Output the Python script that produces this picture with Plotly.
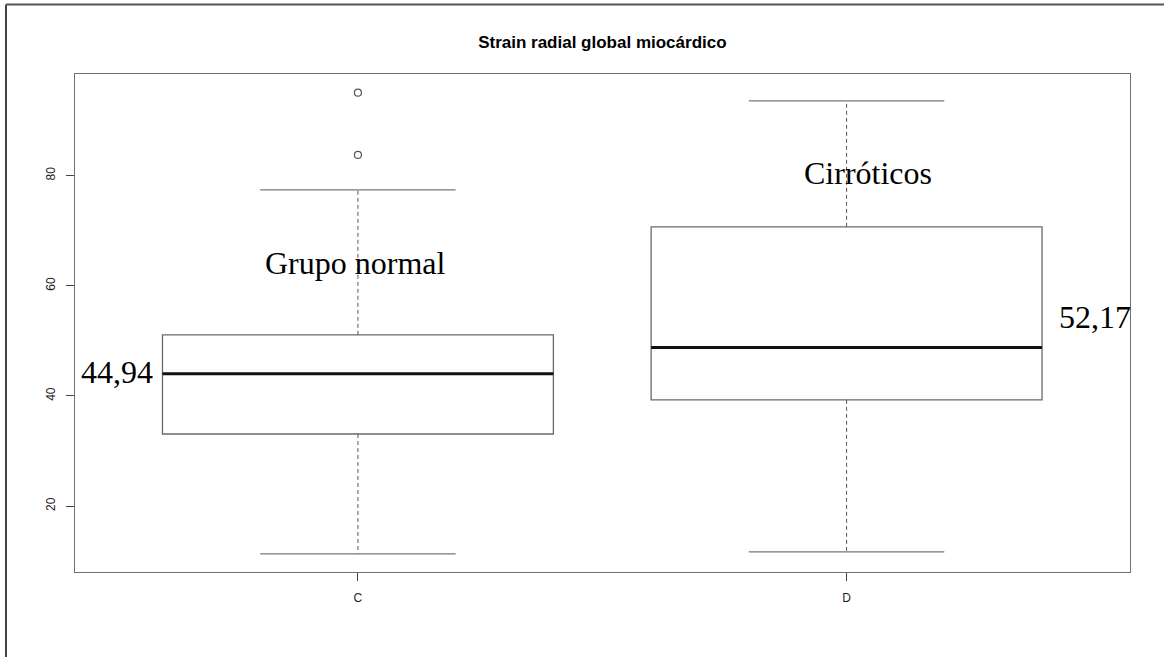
import plotly.graph_objects as go

# ---- data ----
groups = ["C", "D"]
positions = [1, 2]
lower_whisker = [11.35, 11.7]
q1 = [33.1, 39.3]
median = [44.05, 48.8]
q3 = [51.1, 70.7]
upper_whisker = [77.4, 93.55]
outliers_C = [95.05, 83.75]
outliers_D = []

labels_text = ["Grupo normal", "Cirróticos", "44,94", "52,17"]
labels_x = [0.994, 2.043, 0.506, 2.509]
labels_y = [64.1, 80.4, 44.3, 54.4]

title = "Strain radial global miocárdico"
yticks = [20, 40, 60, 80]

BOX_W = 0.8
CAP_W = 0.4
box_col = "#6a6a6a"

fig = go.Figure()

for i, g in enumerate(groups):
    p = positions[i]
    fig.add_trace(go.Box(
        x=[p], q1=[q1[i]], median=[median[i]], q3=[q3[i]],
        lowerfence=[q1[i]], upperfence=[q3[i]],
        width=BOX_W, whiskerwidth=0, boxpoints=False,
        fillcolor="rgba(0,0,0,0)", line=dict(color=box_col, width=1.3),
        showlegend=False, hoverinfo="skip"))
    # dashed whiskers
    fig.add_trace(go.Scatter(
        x=[p, p, None, p, p],
        y=[q3[i], upper_whisker[i], None, q1[i], lower_whisker[i]],
        mode="lines", line=dict(color="#555555", width=1, dash="4px,3px"),
        showlegend=False, hoverinfo="skip"))
    # caps
    fig.add_trace(go.Scatter(
        x=[p - CAP_W / 2, p + CAP_W / 2, None, p - CAP_W / 2, p + CAP_W / 2],
        y=[upper_whisker[i], upper_whisker[i], None, lower_whisker[i], lower_whisker[i]],
        mode="lines", line=dict(color="#777777", width=1.3),
        showlegend=False, hoverinfo="skip"))
    # thick median
    fig.add_trace(go.Scatter(
        x=[p - BOX_W / 2, p + BOX_W / 2], y=[median[i], median[i]],
        mode="lines", line=dict(color="#111111", width=3),
        showlegend=False, hoverinfo="skip"))

outs = [outliers_C, outliers_D]
for i, o in enumerate(outs):
    if o:
        fig.add_trace(go.Scatter(
            x=[positions[i]] * len(o), y=o, mode="markers",
            marker=dict(symbol="circle-open", size=7, color="#555555", line=dict(width=1.2)),
            showlegend=False, hoverinfo="skip"))

for t, x, y in zip(labels_text, labels_x, labels_y):
    fig.add_annotation(x=x, y=y, xref="x", yref="y", text=t, showarrow=False,
                       xanchor="center", yanchor="middle",
                       font=dict(family="Liberation Serif", size=32, color="#000000"))

axis_common = dict(showline=True, mirror=True, linecolor="#707070", linewidth=1,
                   ticks="outside", ticklen=8, tickcolor="#444444", showgrid=False,
                   zeroline=False,
                   tickfont=dict(family="Liberation Sans", size=12, color="#222222"))

fig.update_xaxes(range=[0.421, 2.58], tickvals=positions, ticktext=groups,
                 ticklabelstandoff=7, **axis_common)
fig.update_yaxes(range=[8.05, 98.44], tickvals=yticks, tickangle=-90,
                 ticklabelstandoff=6, **axis_common)

# outer frame (left and top edges of the original image border)
fig.add_shape(type="line", xref="paper", yref="paper",
              x0=-0.0654, x1=-0.0654, y0=-0.2, y1=1.1396,
              line=dict(color="#444444", width=2))
fig.add_shape(type="line", xref="paper", yref="paper",
              x0=-0.0654, x1=1.1, y0=1.1396, y1=1.1396,
              line=dict(color="#555555", width=2))

fig.update_layout(
    width=1164, height=657,
    margin=dict(l=75, r=34, t=74, b=85),
    paper_bgcolor="white", plot_bgcolor="white",
    title=dict(text="<b>" + title + "</b>", x=0.5175, xanchor="center",
               y=1 - 42 / 657, yanchor="middle",
               font=dict(family="Liberation Sans", size=17, color="#000000")),
)

fig.write_html("out.html")
